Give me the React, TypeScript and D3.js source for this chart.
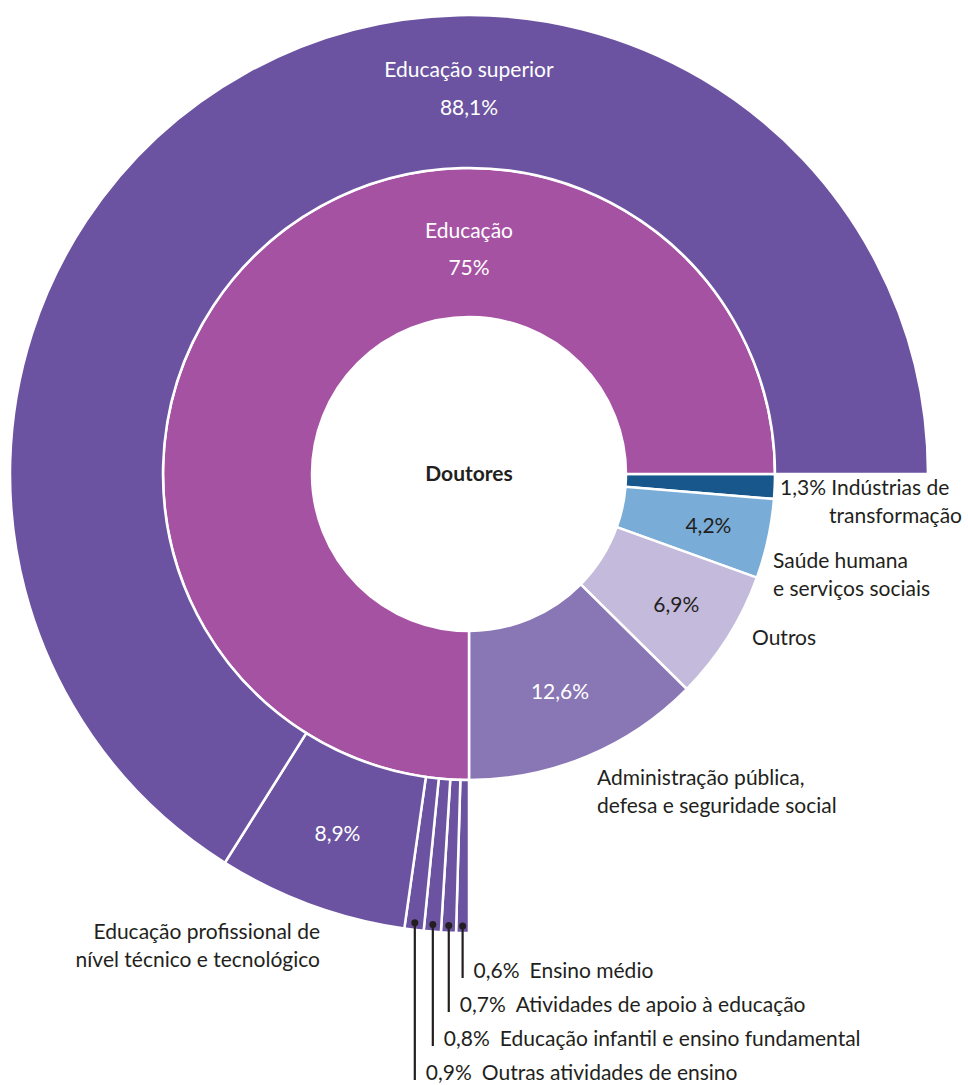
import * as d3 from "d3";

// inner ring: sectors of activity of doctors
const sectors = [
  "Indústrias de transformação",
  "Saúde humana e serviços sociais",
  "Outros",
  "Administração pública, defesa e seguridade social",
  "Educação",
];
const sectorShares = [1.3, 4.2, 6.9, 12.6, 75];
const sectorColors = ["#17578b", "#79acd7", "#c4badb", "#8976b4", "#a652a3"];

// outer ring: breakdown of "Educação"
const eduSegments = [
  "Ensino médio",
  "Atividades de apoio à educação",
  "Educação infantil e ensino fundamental",
  "Outras atividades de ensino",
  "Educação profissional de nível técnico e tecnológico",
  "Educação superior",
];
const eduShares = [0.6, 0.7, 0.8, 0.9, 8.9, 88.1];
const eduColor = "#6b53a1";

const W = 968;
const H = 1085;
const CX = 469;
const CY = 474;
const R_HOLE = 157;
const R_MID = 306;
const R_OUT = 459;
const FONT = "Lato, 'Open Sans', sans-serif";
const DARK = "#231f20";
const FS = 21;

const locale = d3.formatLocale({ decimal: ",", thousands: ".", grouping: [3], currency: ["R$", ""] });
const pct = (v: number) => (Number.isInteger(v) ? locale.format("d")(v) : locale.format(".1f")(v)) + "%";

export default function App() {
  const innerPie = d3
    .pie<number>()
    .sort(null)
    .startAngle(Math.PI / 2)
    .endAngle(Math.PI / 2 + 2 * Math.PI)(sectorShares);
  const eduArc = innerPie[sectors.indexOf("Educação")];
  const outerPie = d3
    .pie<number>()
    .sort(null)
    .startAngle(eduArc.startAngle)
    .endAngle(eduArc.endAngle)(eduShares);

  const innerArc = d3.arc<d3.PieArcDatum<number>>().innerRadius(R_HOLE).outerRadius(R_MID);
  const outerArc = d3.arc<d3.PieArcDatum<number>>().innerRadius(R_MID).outerRadius(R_OUT);

  const polar = (a: number, r: number): [number, number] => [Math.sin(a) * r, -Math.cos(a) * r];
  const mid = (d: d3.PieArcDatum<number>) => (d.startAngle + d.endAngle) / 2;

  // percentage labels inside the inner ring (radius per slice)
  const innerPctRadius: Record<number, number> = { 1: 245, 2: 245, 3: 236 };
  const innerPctColor: Record<number, string> = { 1: DARK, 2: DARK, 3: "#fff" };

  const txt = { fontFamily: FONT, fontSize: FS };

  return (
    <svg
      width={W}
      height={H}
      style={{ position: "absolute", left: 0, top: 0, background: "#fff" }}
    >
      <g transform={`translate(${CX},${CY})`}>
        {innerPie.map((d, i) => (
          <path key={"in" + i} d={innerArc(d) || ""} fill={sectorColors[i]} stroke="#fff" strokeWidth={2.5} />
        ))}
        {outerPie.map((d, i) => (
          <path key={"out" + i} d={outerArc(d) || ""} fill={eduColor} stroke="#fff" strokeWidth={2.5} />
        ))}

        <text x={0} y={0} dy="0.35em" textAnchor="middle" fill={DARK} fontWeight={700} style={txt}>
          Doutores
        </text>

        {/* Educação label at the top of the inner ring */}
        <text x={0} y={-236} textAnchor="middle" fill="#fff" style={txt}>
          {sectors[4]}
        </text>
        <text x={0} y={-199} textAnchor="middle" fill="#fff" style={txt}>
          {pct(sectorShares[4])}
        </text>

        {[1, 2, 3].map((i) => {
          const [x, y] = polar(mid(innerPie[i]), innerPctRadius[i]);
          return (
            <text key={"ip" + i} x={x} y={y} dy="0.35em" textAnchor="middle" fill={innerPctColor[i]} style={txt}>
              {pct(sectorShares[i])}
            </text>
          );
        })}

        {/* Educação superior at the top of the outer ring */}
        <text x={0} y={-397} textAnchor="middle" fill="#fff" style={txt}>
          {eduSegments[5]}
        </text>
        <text x={0} y={-359} textAnchor="middle" fill="#fff" style={txt}>
          {pct(eduShares[5])}
        </text>

        {(() => {
          const [x, y] = outerArc.centroid(outerPie[4]);
          return (
            <text x={x} y={y} dy="0.35em" textAnchor="middle" fill="#fff" style={txt}>
              {pct(eduShares[4])}
            </text>
          );
        })()}

        {/* leader lines for the thin outer slices */}
        {[0, 1, 2, 3].map((i) => {
          const [x, y] = polar(mid(outerPie[i]), 452);
          const yEnd = 504 + i * 34;
          return (
            <g key={"ld" + i}>
              <line x1={x} y1={y} x2={x} y2={yEnd} stroke={DARK} strokeWidth={2.2} />
              <circle cx={x} cy={y} r={3.5} fill={DARK} />
              <text x={x + 11} y={yEnd} fill={DARK} style={txt}>
                <tspan>{pct(eduShares[i])}</tspan>
                <tspan dx={10}>{eduSegments[i]}</tspan>
              </text>
            </g>
          );
        })}
      </g>

      {/* outside labels */}
      <g fill={DARK} style={txt}>
        <text x={780} y={495}>
          {pct(sectorShares[0])} Indústrias de
        </text>
        <text x={962} y={523} textAnchor="end">
          transformação
        </text>
        <text x={773} y={568}>Saúde humana</text>
        <text x={773} y={596}>e serviços sociais</text>
        <text x={752} y={645}>{sectors[2]}</text>
        <text x={597} y={785}>Administração pública,</text>
        <text x={597} y={813}>defesa e seguridade social</text>
        <text x={320} y={939} textAnchor="end">
          Educação profissional de
        </text>
        <text x={320} y={967} textAnchor="end">
          nível técnico e tecnológico
        </text>
      </g>
    </svg>
  );
}
